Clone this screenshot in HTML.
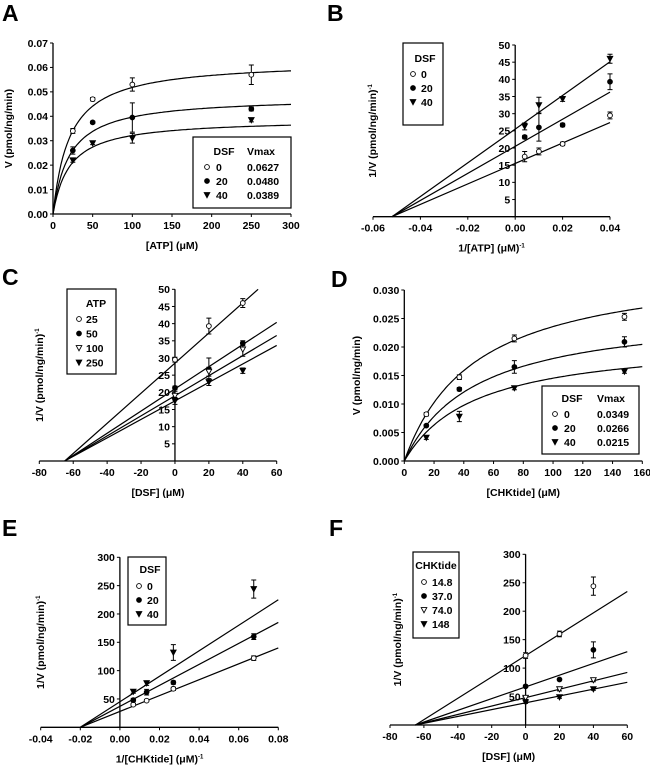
<!DOCTYPE html>
<html><head><meta charset="utf-8"><style>
body{margin:0;background:#fff}
svg{display:block;font-family:"Liberation Sans",Arial,sans-serif;font-weight:bold}
</style></head><body>
<svg id="fig" width="650" height="774" viewBox="0 0 650 774" xmlns="http://www.w3.org/2000/svg"></svg>
<script>
// Panel A data
const aX=[25,50,100,250];
const aY0=[0.034,0.047,0.053,0.057];
const aY20=[0.026,0.0375,0.0395,0.043];
const aY40=[0.022,0.029,0.031,0.0385];
const aE0=[0.001,0.0007,0.0027,0.004];
const aE20=[0.0015,0.0005,0.006,0.0008];
const aE40=[0.0008,0.0006,0.002,0.0008];
const aVmax=[0.0627,0.0480,0.0389];
const aKm=[21,21,21];
// Panel B
const bX=[0.004,0.01,0.02,0.04];
const bY0=[17.5,19,21.2,29.5];
const bY20=[23.2,26,26.7,39.3];
const bY40=[26.3,32.5,34.3,46];
const bE0=[1.5,1,0.5,1];
const bE20=[0.5,4,0.5,2.3];
const bE40=[1,2.3,0.7,1.3];
const bInt=[15.5,20.5,25.5];
const bConv=-0.052;
// Panel C
const cX=[0,20,40];
const cY25=[29.5,39.3,46];
const cY50=[21.3,26.7,34.3];
const cY100=[19,26,32.5];
const cY250=[17.5,23,26.3];
const cE25=[0.7,2.3,1.3];
const cE50=[0.5,3.3,0.7];
const cE100=[1.3,1.3,2];
const cE250=[1,1,0.8];
const cInt=[28.5,21,19,17.5];
const cConv=-65;
// Panel D
const dX=[14.8,37,74,148];
const dY0=[0.0082,0.0147,0.0215,0.0253];
const dY20=[0.0062,0.0126,0.0165,0.0209];
const dY40=[0.0041,0.0078,0.0128,0.0157];
const dE0=[0.0003,0.0004,0.0006,0.0006];
const dE20=[0.0002,0.0003,0.0011,0.0009];
const dE40=[0.0003,0.0009,0.0003,0.0003];
const dVmax=[0.0349,0.0266,0.0215];
const dKm=[48,48,48];
// Panel E
const eX=[0.00676,0.0135,0.027,0.0676];
const eY0=[40,47,68,122];
const eY20=[48,62,79,160];
const eY40=[63,78,132,244];
const eE0=[2,2,3,4];
const eE20=[3,5,3,5];
const eE40=[3,4,14,16];
const eInt=[28,37,45];
const eConv=-0.02;
// Panel F
const fX=[0,20,40];
const fY148a=[122,160,244];
const fY37=[68,80,132];
const fY74=[48,63,79];
const fY148=[40,49,63];
const fE1=[5,5,16];
const fE2=[2,2,14];
const fE3=[3,3,3];
const fE4=[2,2,2];
const fInt=[122,67,48,39];
const fConv=-65;

const NS="http://www.w3.org/2000/svg";
const svg=document.getElementById('fig');
const FS=10.5;
function el(tag,attrs,parent,name,txt){
  const e=document.createElementNS(NS,tag);
  for(const k in attrs)e.setAttribute(k,attrs[k]);
  
  
  if(txt!==undefined)e.textContent=txt;
  (parent||svg).appendChild(e);return e;
}
function marker(g,type,x,y,name){
  const r=2.4;
  if(type<2){el('circle',{cx:x,cy:y,r:r,fill:type==0?'#fff':'#000',stroke:'#000','stroke-width':0.9},g,name);}
  else{el('polygon',{points:`${x-2.8},${y-2.4} ${x+2.8},${y-2.4} ${x},${y+2.8}`,fill:type==2?'#fff':'#000',stroke:'#000','stroke-width':0.9},g,name);}
}
function panel(p){
  const g=el('g',{},svg,p.name);
  const sx=v=>p.px0+(v-p.xmin)/(p.xmax-p.xmin)*(p.px1-p.px0);
  const sy=v=>p.py0-(v-p.ymin)/(p.ymax-p.ymin)*(p.py0-p.py1);
  el('text',{x:p.lx,y:p.ly,'font-size':23},g,'panel-letter',p.letter);
  const ax=sx(p.yAxisAt);
  el('line',{x1:p.px0,x2:p.px1,y1:p.py0,y2:p.py0,stroke:'#000','stroke-width':1.3},g,'x-axis');
  el('line',{x1:ax,x2:ax,y1:p.py0,y2:p.py1,stroke:'#000','stroke-width':1.3},g,'y-axis');
  p.xt.forEach((v,i)=>{const x=sx(v);
    el('line',{x1:x,x2:x,y1:p.py0,y2:p.py0+3,stroke:'#000','stroke-width':1},g,'x-tick');
    el('text',{x:x,y:p.py0+15,'font-size':FS,'text-anchor':'middle'},g,'x-tick-label',p.xl[i]);});
  p.yt.forEach((v,i)=>{const y=sy(v);
    el('line',{x1:ax-3,x2:ax,y1:y,y2:y,stroke:'#000','stroke-width':1},g,'y-tick');
    if(p.yl[i]!=='')el('text',{x:ax-5,y:y+3.8,'font-size':FS,'text-anchor':'end'},g,'y-tick-label',p.yl[i]);});
  el('text',{x:(p.px0+p.px1)/2,y:p.py0+35,'font-size':FS,'text-anchor':'middle'},g,'x-axis-title').innerHTML=p.xtitle;
  el('text',{x:0,y:0,'font-size':FS,'text-anchor':'middle',transform:`translate(${p.ytx},${(p.py0+p.py1)/2}) rotate(-90)`},g,'y-axis-title').innerHTML=p.ytitle;
  p.fits.forEach(f=>{
    let d='';
    if(f.mm){for(let i=0;i<=120;i++){const x=p.xmin+(p.xmax-p.xmin)*i/120;const y=f.vmax*x/(f.km+x);d+=(i?'L':'M')+sx(x).toFixed(1)+','+sy(y).toFixed(1);}}
    else{const s=f.b/(-f.xc);let xe=p.xmax, ye=f.b+s*xe; if(ye>p.ymax){xe=(p.ymax-f.b)/s;ye=p.ymax;}
      d=`M${sx(f.xc)},${sy(0)}L${sx(xe)},${sy(ye)}`;}
    el('path',{d:d,fill:'none',stroke:'#000','stroke-width':1.2},g,'fit-line');
  });
  p.series.forEach(s=>{
    s.y.forEach((v,i)=>{const x=sx(p.x[i]),y=sy(v);
      if(s.e&&s.e[i]){const t=sy(v+s.e[i]),b=sy(v-s.e[i]);
        el('path',{d:`M${x},${t}V${b}M${x-2.5},${t}h5M${x-2.5},${b}h5`,stroke:'#000','stroke-width':1,fill:'none'},g,'error-bar');}
      marker(g,s.m,x,y,'data-point');});
  });
  const L=p.legend;
  const lg=el('g',{},g,'legend');
  el('rect',{x:L.x,y:L.y,width:L.w,height:L.h,fill:'#fff',stroke:'#000','stroke-width':1.2},lg,'legend-box');
  el('text',{x:L.hx,y:L.y+L.hy,'font-size':FS,'text-anchor':'middle'},lg,'legend-title',L.title);
  if(L.vt)el('text',{x:L.vx,y:L.y+L.hy,'font-size':FS},lg,'legend-value-title',L.vt);
  L.rows.forEach((r,i)=>{const y=L.y+L.r0+i*L.dr;
    marker(lg,i<2?i:(L.tri?(i==2?2:3):3),L.mx,y,'legend-marker');
    el('text',{x:L.tx,y:y+3.8,'font-size':FS},lg,'legend-label',r);
    if(L.vals)el('text',{x:L.vx,y:y+3.8,'font-size':FS},lg,'legend-value',L.vals[i]);});
}
const fmt=(a,n)=>a.map(v=>v.toFixed(n));
panel({name:'panel-a',letter:'A',lx:2,ly:21,px0:53,px1:291,xmin:0,xmax:300,py0:214,py1:43,ymin:0,ymax:0.07,yAxisAt:0,
 xt:[0,50,100,150,200,250,300],xl:['0','50','100','150','200','250','300'],
 yt:[0,0.01,0.02,0.03,0.04,0.05,0.06,0.07],yl:fmt([0,0.01,0.02,0.03,0.04,0.05,0.06,0.07],2),
 xtitle:'[ATP] (μM)',ytitle:'V (pmol/ng/min)',ytx:12,x:aX,
 fits:aVmax.map((v,i)=>({mm:1,vmax:v,km:aKm[i]})),
 series:[{y:aY0,e:aE0,m:0},{y:aY20,e:aE20,m:1},{y:aY40,e:aE40,m:3}],
 legend:{x:193,y:137,w:98,h:71,title:'DSF',hx:224,hy:18,vt:'Vmax',vx:247,mx:207,tx:216,r0:30,dr:14,rows:['0','20','40'],vals:['0.0627','0.0480','0.0389']}});
panel({name:'panel-b',letter:'B',lx:327,ly:21,px0:373,px1:610,xmin:-0.06,xmax:0.04,py0:216.7,py1:45,ymin:0,ymax:50,yAxisAt:0,
 xt:[-0.06,-0.04,-0.02,0,0.02,0.04],xl:['-0.06','-0.04','-0.02','0.00','0.02','0.04'],
 yt:[0,5,10,15,20,25,30,35,40,45,50],yl:['','5','10','15','20','25','30','35','40','45','50'],
 xtitle:'1/[ATP] (μM)<tspan font-size="6" dy="-4">-1</tspan>',ytitle:'1/V (pmol/ng/min)<tspan font-size="6" dy="-4">-1</tspan>',ytx:376,x:bX,
 fits:bInt.map(b=>({b:b,xc:bConv})),
 series:[{y:bY0,e:bE0,m:0},{y:bY20,e:bE20,m:1},{y:bY40,e:bE40,m:3}],
 legend:{x:403,y:43,w:40,h:82,title:'DSF',hx:425,hy:19,mx:413,tx:421,r0:31,dr:14,rows:['0','20','40']}});
panel({name:'panel-c',letter:'C',lx:2,ly:285,px0:39.3,px1:276.7,xmin:-80,xmax:60,py0:461,py1:289.3,ymin:0,ymax:50,yAxisAt:0,
 xt:[-80,-60,-40,-20,0,20,40,60],xl:['-80','-60','-40','-20','0','20','40','60'],
 yt:[0,5,10,15,20,25,30,35,40,45,50],yl:['','5','10','15','20','25','30','35','40','45','50'],
 xtitle:'[DSF] (μM)',ytitle:'1/V (pmol/ng/min)<tspan font-size="6" dy="-4">-1</tspan>',ytx:43,x:cX,
 fits:cInt.map(b=>({b:b,xc:cConv})),
 series:[{y:cY25,e:cE25,m:0},{y:cY50,e:cE50,m:1},{y:cY100,e:cE100,m:2},{y:cY250,e:cE250,m:3}],
 legend:{x:67,y:289,w:49,h:85,title:'ATP',hx:96,hy:18,mx:79,tx:86,r0:30,dr:14.5,tri:1,rows:['25','50','100','250']}});
panel({name:'panel-d',letter:'D',lx:331,ly:287,px0:404.3,px1:642.3,xmin:0,xmax:160,py0:461,py1:290,ymin:0,ymax:0.03,yAxisAt:0,
 xt:[0,20,40,60,80,100,120,140,160],xl:['0','20','40','60','80','100','120','140','160'],
 yt:[0,0.005,0.01,0.015,0.02,0.025,0.03],yl:fmt([0,0.005,0.01,0.015,0.02,0.025,0.03],3),
 xtitle:'[CHKtide] (μM)',ytitle:'V (pmol/ng/min)',ytx:360,x:dX,
 fits:dVmax.map((v,i)=>({mm:1,vmax:v,km:dKm[i]})),
 series:[{y:dY0,e:dE0,m:0},{y:dY20,e:dE20,m:1},{y:dY40,e:dE40,m:3}],
 legend:{x:542,y:386,w:97,h:68,title:'DSF',hx:572,hy:16,vt:'Vmax',vx:597,mx:555,tx:564,r0:28,dr:14,rows:['0','20','40'],vals:['0.0349','0.0266','0.0215']}});
panel({name:'panel-e',letter:'E',lx:2,ly:536,px0:40.7,px1:278.3,xmin:-0.04,xmax:0.08,py0:727.3,py1:557.3,ymin:0,ymax:300,yAxisAt:0,
 xt:[-0.04,-0.02,0,0.02,0.04,0.06,0.08],xl:['-0.04','-0.02','0.00','0.02','0.04','0.06','0.08'],
 yt:[0,50,100,150,200,250,300],yl:['','50','100','150','200','250','300'],
 xtitle:'1/[CHKtide] (μM)<tspan font-size="6" dy="-4">-1</tspan>',ytitle:'1/V (pmol/ng/min)<tspan font-size="6" dy="-4">-1</tspan>',ytx:44,x:eX,
 fits:eInt.map(b=>({b:b,xc:eConv})),
 series:[{y:eY0,e:eE0,m:0},{y:eY20,e:eE20,m:1},{y:eY40,e:eE40,m:3}],
 legend:{x:128,y:557,w:38,h:68,title:'DSF',hx:150,hy:16,mx:139,tx:147,r0:29,dr:14,rows:['0','20','40']}});
panel({name:'panel-f',letter:'F',lx:329,ly:536,px0:390,px1:627.3,xmin:-80,xmax:60,py0:725,py1:554.3,ymin:0,ymax:300,yAxisAt:0,
 xt:[-80,-60,-40,-20,0,20,40,60],xl:['-80','-60','-40','-20','0','20','40','60'],
 yt:[0,50,100,150,200,250,300],yl:['','50','100','150','200','250','300'],
 xtitle:'[DSF] (μM)',ytitle:'1/V (pmol/ng/min)<tspan font-size="6" dy="-4">-1</tspan>',ytx:401,x:fX,
 fits:fInt.map(b=>({b:b,xc:fConv})),
 series:[{y:fY148a,e:fE1,m:0},{y:fY37,e:fE2,m:1},{y:fY74,e:fE3,m:2},{y:fY148,e:fE4,m:3}],
 legend:{x:413,y:552,w:46,h:86,title:'CHKtide',hx:436,hy:17,mx:424,tx:432,r0:30,dr:14,tri:1,rows:['14.8','37.0','74.0','148']}});
</script>
</body></html>
